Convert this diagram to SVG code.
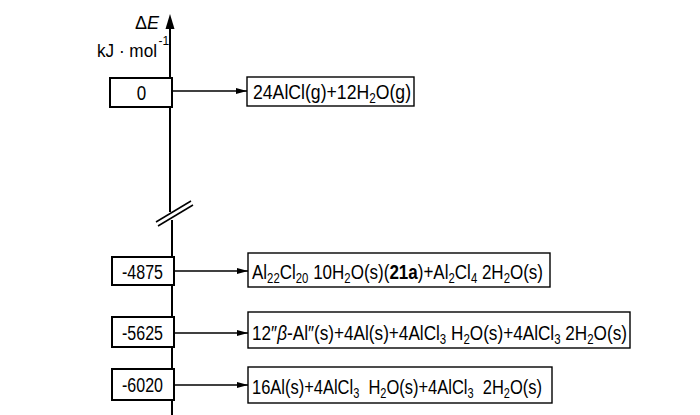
<svg xmlns="http://www.w3.org/2000/svg" width="700" height="415" viewBox="0 0 700 415">
<style>
text{font-family:"Liberation Sans",Arial,sans-serif;fill:#000;white-space:pre}
.lbl{font-size:21px}
.num{font-size:20px}
.nb{fill:#fff;stroke:#000;stroke-width:2}
.rb{fill:#fff;stroke:#000;stroke-width:1.4}
.ax{stroke:#000;stroke-width:2;fill:none}
.cn{stroke:#000;stroke-width:1.3;fill:none}
.s{font-size:14px}
</style>
<defs>
<marker id="ah" markerWidth="12" markerHeight="8" refX="11" refY="4" orient="auto" markerUnits="userSpaceOnUse">
<path d="M0,1 L11,4 L0,7 Z" fill="#000"/>
</marker>
</defs>
<g id="axis">
<line class="ax" x1="170" y1="26" x2="170" y2="212"/>
<path d="M170,14 L174.5,29 L165.5,29 Z" fill="#000"/>
<line class="ax" x1="172" y1="220" x2="172" y2="415"/>
<line stroke="#000" stroke-width="1.5" x1="156" y1="222" x2="191" y2="201"/>
<line stroke="#000" stroke-width="1.5" x1="158" y1="226" x2="193" y2="205"/>
<text x="159" y="29" font-size="18" text-anchor="end">Δ<tspan font-style="italic">E</tspan></text>
<text transform="translate(97,57) scale(0.92,1)" font-size="19" textLength="65.2" lengthAdjust="spacingAndGlyphs">kJ · mol</text>
<text x="158.5" y="45" font-size="12">-1</text>
</g>
<g id="connectors">
<line class="cn" x1="172" y1="91" x2="247" y2="91" marker-end="url(#ah)"/>
<line class="cn" x1="174" y1="271" x2="248" y2="271" marker-end="url(#ah)"/>
<line class="cn" x1="174" y1="333" x2="248" y2="333" marker-end="url(#ah)"/>
<line class="cn" x1="174" y1="385" x2="248" y2="385" marker-end="url(#ah)"/>
</g>
<g id="n0">
<rect class="nb" x="110" y="78" width="62" height="29"/>
<text class="num" transform="translate(136.8,99.5) scale(0.85,1)">0</text>
</g>
<g id="n4875">
<rect class="nb" x="112" y="257" width="62" height="28"/>
<text class="num" transform="translate(122,278.5) scale(0.8,1)" textLength="51.2" lengthAdjust="spacingAndGlyphs">-4875</text>
</g>
<g id="n5625">
<rect class="nb" x="112" y="317" width="62" height="30"/>
<text class="num" transform="translate(122,339.5) scale(0.8,1)" textLength="51.2" lengthAdjust="spacingAndGlyphs">-5625</text>
</g>
<g id="n6020">
<rect class="nb" x="112" y="369" width="62" height="31"/>
<text class="num" transform="translate(122,392) scale(0.8,1)" textLength="51.2" lengthAdjust="spacingAndGlyphs">-6020</text>
</g>
<g id="s0">
<rect class="rb" x="247" y="77" width="167" height="29"/>
<text class="lbl" transform="translate(253,99) scale(0.84,1)" textLength="188.1" lengthAdjust="spacingAndGlyphs">24AlCl(g)+12H<tspan class="s" dy="4">2</tspan><tspan dy="-4">O(g)</tspan></text>
</g>
<g id="s1">
<rect class="rb" x="248" y="253" width="302" height="34"/>
<text class="lbl" transform="translate(252,278.5) scale(0.81,1)" textLength="359.3" lengthAdjust="spacingAndGlyphs">Al<tspan class="s" dy="4">22</tspan><tspan dy="-4">Cl</tspan><tspan class="s" dy="4">20</tspan><tspan dy="-4"> 10H</tspan><tspan class="s" dy="4">2</tspan><tspan dy="-4">O(s)(</tspan><tspan font-weight="bold">21a</tspan>)+Al<tspan class="s" dy="4">2</tspan><tspan dy="-4">Cl</tspan><tspan class="s" dy="4">4</tspan><tspan dy="-4"> 2H</tspan><tspan class="s" dy="4">2</tspan><tspan dy="-4">O(s)</tspan></text>
</g>
<g id="s2">
<rect class="rb" x="248" y="312" width="382" height="36"/>
<text class="lbl" transform="translate(252,339.5) scale(0.815,1)" textLength="460.1" lengthAdjust="spacingAndGlyphs">12″<tspan font-style="italic">β</tspan>-Al″(s)+4Al(s)+4AlCl<tspan class="s" dy="4">3</tspan><tspan dy="-4"> H</tspan><tspan class="s" dy="4">2</tspan><tspan dy="-4">O(s)+4AlCl</tspan><tspan class="s" dy="4">3</tspan><tspan dy="-4"> 2H</tspan><tspan class="s" dy="4">2</tspan><tspan dy="-4">O(s)</tspan></text>
</g>
<g id="s3">
<rect class="rb" x="248" y="367" width="304" height="36"/>
<text class="lbl" transform="translate(252,393.5) scale(0.785,1)" textLength="369.4" lengthAdjust="spacingAndGlyphs">16Al(s)+4AlCl<tspan class="s" dy="4">3</tspan><tspan dy="-4">  H</tspan><tspan class="s" dy="4">2</tspan><tspan dy="-4">O(s)+4AlCl</tspan><tspan class="s" dy="4">3</tspan><tspan dy="-4">  2H</tspan><tspan class="s" dy="4">2</tspan><tspan dy="-4">O(s)</tspan></text>
</g>
</svg>
